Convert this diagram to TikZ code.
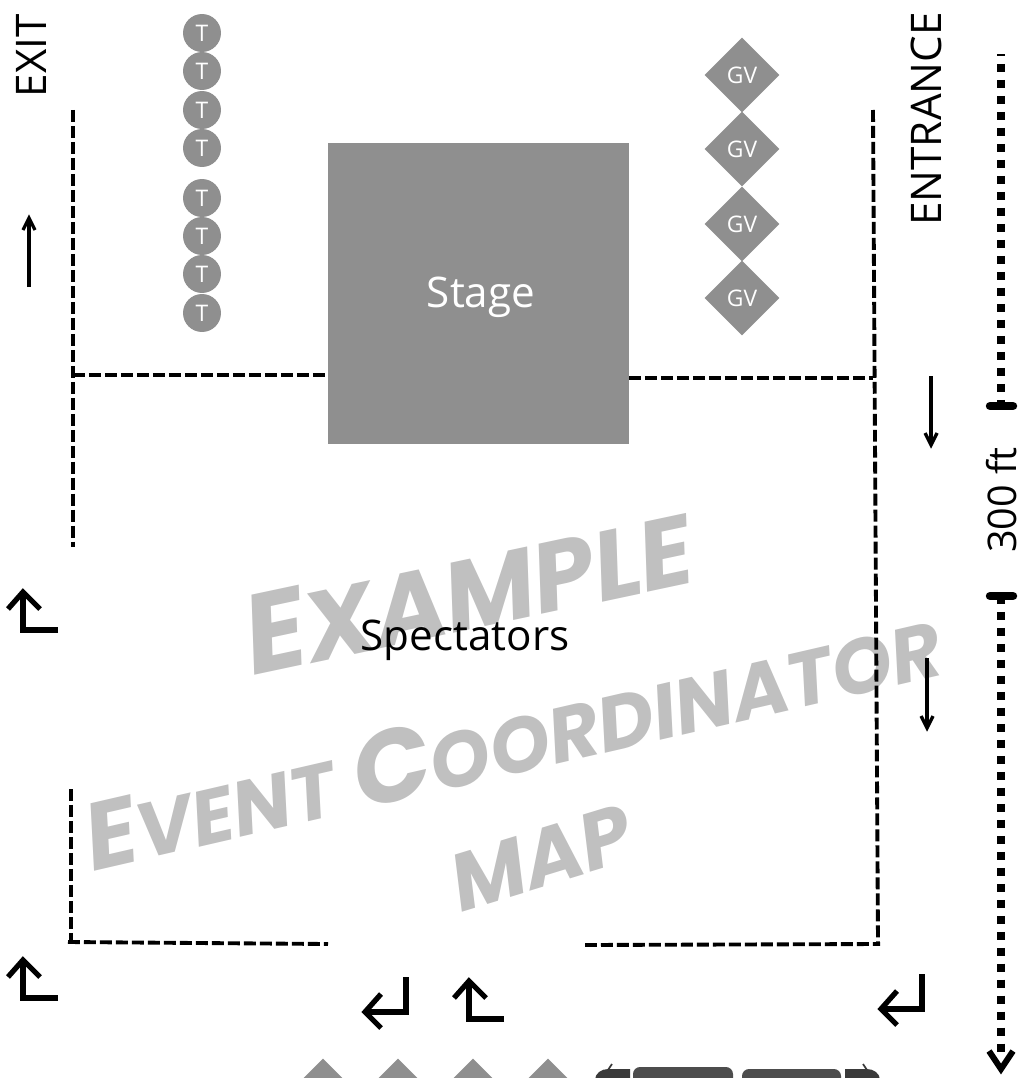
\documentclass[tikz,border=0pt]{standalone}
\usepackage{fontspec}
\setmainfont{Open Sans}
\newfontfamily\brushfont{Poppins}
\usetikzlibrary{shapes.geometric}

\definecolor{stagegray}{HTML}{8F8F8F}
\definecolor{markgray}{HTML}{C0C0C0}
\definecolor{busgray}{HTML}{4D4D4D}

\tikzset{
	fence/.style={line width=2.2pt, dash pattern=on 6.8pt off 2.3pt},
	turn/.style={line width=3pt, miter limit=10},
	thin arrow/.style={line width=1.9pt},
	tent/.style={circle, fill=stagegray, text=white, minimum size=0.76cm, inner sep=0pt, font=\fontsize{13}{15}\selectfont},
	guest/.style={diamond, fill=stagegray, text=white, minimum width=1.5cm, minimum height=1.5cm, inner sep=0pt, font=\fontsize{13}{15}\selectfont},
	side label/.style={rotate=90, font=\fontsize{24}{28}\selectfont},
	watermark/.style={text=markgray, font=\brushfont\bfseries\itshape, inner sep=0pt},
	ruler/.style={line width=4.5pt, dash pattern=on 4.5pt off 4.6pt},
	tick/.style={line width=4.8pt, line cap=round},
}

\newcommand{\bigsmall}[2]{{\fontsize{#1}{#1}\selectfont #2}}

\begin{document}
\begin{tikzpicture}[x=0.02cm, y=-0.02cm]
	\clip (0, 0) rectangle (1021, 1078);

	% watermark
	\node[watermark, rotate=12] (markone) at (468, 590) {\bigsmall{64}{E}\bigsmall{56}{XAMPLE}};
	\node[watermark, rotate=13] (marktwo) at (512, 738) {\bigsmall{54}{E}\bigsmall{44}{VENT}\hspace{12pt}\bigsmall{58}{C}\bigsmall{44}{OORDINATOR}};
	\node[watermark, rotate=17] (markthree) at (541, 858) {\bigsmall{46}{MAP}};

	% stage
	\node[fill=stagegray, minimum size=6.02cm, inner sep=0pt] (stage) at (478.5, 293.5) {};
	\node[text=white, font=\fontsize{24}{28}\selectfont] (stagelabel) at (481, 297) {Stage};
	\node[font=\fontsize{24}{28}\selectfont] (spectators) at (465, 640) {Spectators};

	% tents
	\foreach \y in {33, 71, 110, 148, 198, 236, 274, 313}
		\node[tent] at (202, \y) {T};

	% guest vehicles
	\foreach \y in {75, 149, 224, 298}
		\node[guest] at (742, \y) {GV};
	\foreach \x in {323, 398, 473, 548}
		\node[guest] at (\x, 1096) {};

	% fences
	\draw[fence] (73, 110) -- (73, 547);
	\draw[fence] (73, 375) -- (327, 375);
	\draw[fence] (629, 378) -- (873, 378);
	\draw[fence] (873, 110) -- (878, 943);
	\draw[fence] (71, 789) -- (71, 942);
	\draw[fence] (68, 942) -- (328, 944);
	\draw[fence] (585, 945) -- (880, 944);

	% straight arrows
	\draw[thin arrow] (29, 287) -- (29, 218);
	\draw[thin arrow] (23, 230) -- (29, 218) -- (35, 230);
	\draw[thin arrow] (931, 376) -- (931, 445);
	\draw[thin arrow] (925, 433) -- (931, 445) -- (937, 433);
	\draw[thin arrow] (927, 658) -- (927, 728);
	\draw[thin arrow] (921, 716) -- (927, 728) -- (933, 716);

	% turn arrows
	\foreach \x/\y in {0/0, 0/368, 446/389} {
		\draw[turn] (58+\x, 630+\y) -- (23+\x, 630+\y) -- (23+\x, 592+\y);
		\draw[turn] (8+\x, 609+\y) -- (23+\x, 592+\y) -- (40+\x, 609+\y);
	}
	\foreach \x/\y in {0/0, 516/-3} {
		\draw[turn] (406+\x, 977+\y) -- (406+\x, 1012+\y) -- (365+\x, 1012+\y);
		\draw[turn] (381+\x, 994+\y) -- (365+\x, 1012+\y) -- (381+\x, 1028+\y);
	}

	% bus
	\fill[busgray, rounded corners=4pt] (633, 1067) rectangle (733, 1090);
	\fill[busgray, rounded corners=4pt] (742, 1069) rectangle (841, 1090);
	\fill[busgray!75!black] (595, 1090) -- (595, 1080) to[out=90, in=180] (608, 1069) -- (630, 1069) -- (630, 1090) -- cycle;
	\fill[busgray!75!black] (880, 1090) -- (880, 1080) to[out=90, in=0] (867, 1069) -- (845, 1069) -- (845, 1090) -- cycle;
	\draw[busgray!75!black, line width=1pt] (608, 1070) -- (612, 1064);
	\draw[busgray!75!black, line width=1pt] (867, 1070) -- (863, 1064);

	% labels
	\node[side label] (exit) at (31, 56) {EXIT};
	\node[side label] (entrance) at (926, 119) {ENTRANCE};
	\node[side label, font=\fontsize{22.5}{26}\selectfont] (distance) at (1002, 500) {300 ft};

	% ruler
	\coordinate (rulertop) at (1001, 64);
	\coordinate (tickone) at (1001, 406);
	\coordinate (ticktwo) at (1001, 596);
	\coordinate (rulerend) at (1001, 1056);
	\draw[ruler] (rulertop) -- (tickone);
	\draw[ruler] (ticktwo) -- (rulerend);
	\draw[line width=1pt] (997, 55) -- (1005, 55);
	\draw[tick] (990, 406) -- (1013, 406);
	\draw[tick] (990, 596) -- (1013, 596);
	\draw[line width=3.4pt] (989, 1051) -- (1001, 1069) -- (1013, 1051);

\end{tikzpicture}
\end{document}
